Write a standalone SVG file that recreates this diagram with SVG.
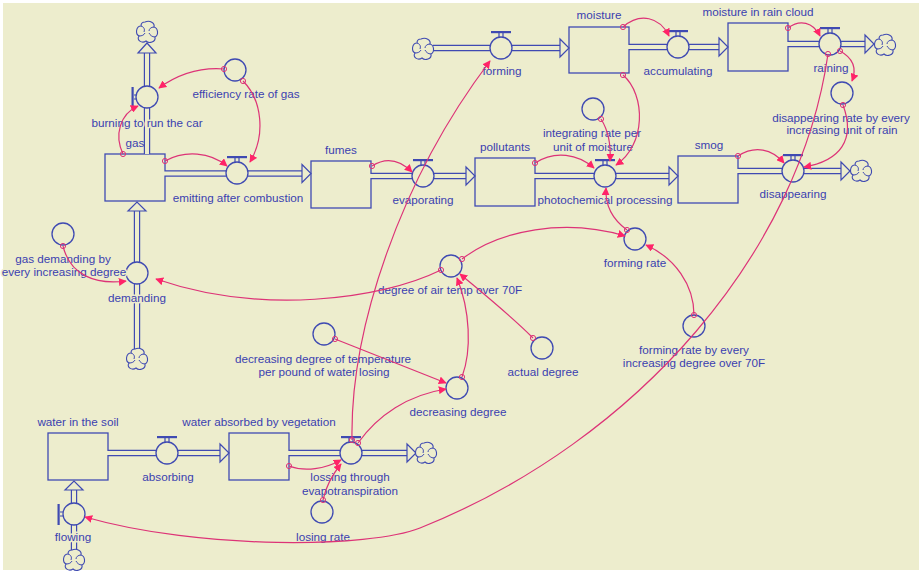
<svg xmlns="http://www.w3.org/2000/svg" width="922" height="573" viewBox="0 0 922 573">
<style>
.bg{fill:#EDEDCD}
.stock{fill:none;stroke:#3F4AB2;stroke-width:1.3}
.po{fill:none;stroke:#3F4AB2;stroke-width:6.4}
.pi{fill:none;stroke:#EDEDCD;stroke-width:4}
.pa{fill:#EDEDCD;stroke:#3F4AB2;stroke-width:1.2;stroke-linejoin:miter}
.valve{fill:#EDEDCD;stroke:#3F4AB2;stroke-width:1.3}
.aux{fill:none;stroke:#3F4AB2;stroke-width:1.3}
.hd{fill:none;stroke:#3F4AB2;stroke-width:1.2}
.hb{fill:#3F4AB2}
.cl{fill:#EDEDCD;stroke:#3F4AB2;stroke-width:1.1}
.sw{fill:none;stroke:#3F4AB2;stroke-width:1}
text{font-family:"Liberation Sans",Arial,sans-serif;font-size:11.7px;fill:#3B3FB0;text-anchor:middle;paint-order:stroke;stroke:#EDEDCD;stroke-width:3;stroke-linejoin:round}
.cn{fill:none;stroke:#DD3377;stroke-width:1.2;marker-start:url(#dot);marker-end:url(#ah)}
</style>
<defs>
<marker id="ah" viewBox="0 0 10 10" refX="9" refY="5" markerWidth="8" markerHeight="8" markerUnits="userSpaceOnUse" orient="auto"><path d="M0,0 L10,5 L0,10 z" fill="#FF2468"/></marker>
<marker id="dot" viewBox="-4 -4 8 8" refX="0" refY="0" markerWidth="8" markerHeight="8" markerUnits="userSpaceOnUse"><circle r="2.6" fill="none" stroke="#DD3377" stroke-width="1"/></marker>
<g id="cloud">
<path class="cl" d="M-2,-10 C3,-12 8,-9 7,-5 C11,-4 12,3 8,5 C9,10 2,12 -1,9 C-5,12 -11,8 -8,4 C-12,2 -11,-6 -6,-6 C-6,-9 -4,-10 -2,-10 Z"/>
<path class="sw" d="M-6,-6 C-3,-5 -2,-3 -3,0 M7,-5 C4,-5 2,-3 2,-1 M8,5 C5,5 3,3 2,1 M-8,4 C-5,4 -3,3 -2,1"/>
</g>
</defs>
<rect x="0" y="0" width="922" height="573" fill="#FFFFFF"/>
<rect class="bg" x="3" y="3" width="916" height="567"/>

<!-- stocks -->
<g id="gas"><rect class="stock" x="105" y="154" width="60" height="47"/><text x="135" y="147">gas</text></g>
<g id="fumes"><rect class="stock" x="311" y="161" width="60" height="47"/><text x="341" y="154">fumes</text></g>
<g id="pollutants"><rect class="stock" x="475" y="158" width="60" height="48"/><text x="505" y="151">pollutants</text></g>
<g id="smog"><rect class="stock" x="678" y="156" width="60" height="47"/><text x="709" y="149">smog</text></g>
<g id="moisture"><rect class="stock" x="569" y="27" width="60" height="46"/><text x="599" y="19">moisture</text></g>
<g id="moisture_in_rain_cloud"><rect class="stock" x="728" y="23" width="60" height="48"/><text x="758" y="16">moisture in rain cloud</text></g>
<g id="water_in_the_soil"><rect class="stock" x="48" y="433" width="60" height="47"/><text x="78" y="426">water in the soil</text></g>
<g id="water_absorbed_by_vegetation"><rect class="stock" x="229" y="433" width="60" height="47"/><text x="259" y="426">water absorbed by vegetation</text></g>

<!-- flows -->
<g id="burning_to_run_the_car">
<path class="po" d="M147,154 V52"/><path class="pi" d="M147,154 V51"/>
<path class="pa" d="M138,53 L147,43 L156,53 Z"/>
<use href="#cloud" x="147" y="32"/>
<circle class="valve" cx="147" cy="97" r="11"/>
<path class="hd" d="M134,95 H136 M134,99 H136"/><rect class="hb" x="131.5" y="87" width="2.2" height="21"/>
<text x="147" y="127">burning to run the car</text>
</g>
<g id="emitting_after_combustion">
<path class="po" d="M165,173.5 H303"/><path class="pi" d="M164,173.5 H304"/>
<path class="pa" d="M302,164.5 L311,173.5 L302,182.5 Z"/>
<circle class="valve" cx="237" cy="173" r="11"/>
<path class="hd" d="M235,158 V162 M239,158 V162"/><rect class="hb" x="227" y="156" width="20" height="2.2"/>
<text x="238" y="202">emitting after combustion</text>
</g>
<g id="evaporating">
<path class="po" d="M371,176 H467"/><path class="pi" d="M370,176 H468"/>
<path class="pa" d="M466,167 L475,176 L466,185 Z"/>
<circle class="valve" cx="423" cy="176" r="11"/>
<path class="hd" d="M421,161 V165 M425,161 V165"/><rect class="hb" x="413" y="159" width="20" height="2.2"/>
<text x="423" y="204">evaporating</text>
</g>
<g id="photochemical_processing">
<path class="po" d="M535,176 H670"/><path class="pi" d="M534,176 H671"/>
<path class="pa" d="M669,167 L678,176 L669,185 Z"/>
<circle class="valve" cx="605" cy="176" r="11"/>
<path class="hd" d="M603,161 V165 M607,161 V165"/><rect class="hb" x="595" y="159" width="20" height="2.2"/>
<text x="605" y="204">photochemical processing</text>
</g>
<g id="disappearing">
<path class="po" d="M738,171 H842"/><path class="pi" d="M737,171 H843"/>
<path class="pa" d="M841,162 L850,171 L841,180 Z"/>
<use href="#cloud" x="861" y="171"/>
<circle class="valve" cx="793" cy="171" r="11"/>
<path class="hd" d="M791,156 V160 M795,156 V160"/><rect class="hb" x="783" y="154" width="20" height="2.2"/>
<text x="793" y="198">disappearing</text>
</g>
<g id="forming">
<path class="po" d="M433,48 H561"/><path class="pi" d="M432,48 H562"/>
<path class="pa" d="M560,39 L569,48 L560,57 Z"/>
<use href="#cloud" x="423" y="49"/>
<circle class="valve" cx="501" cy="48" r="11"/>
<path class="hd" d="M499,33 V37 M503,33 V37"/><rect class="hb" x="491" y="31" width="20" height="2.2"/>
<text x="502" y="75">forming</text>
</g>
<g id="accumulating">
<path class="po" d="M629,47 H720"/><path class="pi" d="M628,47 H721"/>
<path class="pa" d="M719,38 L728,47 L719,56 Z"/>
<circle class="valve" cx="678" cy="47" r="11"/>
<path class="hd" d="M676,32 V36 M680,32 V36"/><rect class="hb" x="668" y="30" width="20" height="2.2"/>
<text x="678" y="75">accumulating</text>
</g>
<g id="raining">
<path class="po" d="M788,44 H866"/><path class="pi" d="M787,44 H867"/>
<path class="pa" d="M865,35 L874,44 L865,53 Z"/>
<use href="#cloud" x="885" y="45"/>
<circle class="valve" cx="830" cy="44" r="11"/>
<path class="hd" d="M828,29 V33 M832,29 V33"/><rect class="hb" x="820" y="27" width="20" height="2.2"/>
<text x="831" y="72">raining</text>
</g>
<g id="demanding">
<path class="po" d="M137,350 V210"/><path class="pi" d="M137,351 V209"/>
<path class="pa" d="M128,211 L137,202 L146,211 Z"/>
<use href="#cloud" x="137" y="359"/>
<circle class="valve" cx="137" cy="273" r="11"/>
<text x="137" y="302">demanding</text>
</g>
<g id="absorbing">
<path class="po" d="M108,453 H221"/><path class="pi" d="M107,453 H222"/>
<path class="pa" d="M220,444 L229,453 L220,462 Z"/>
<circle class="valve" cx="167" cy="453" r="11"/>
<path class="hd" d="M165,438 V442 M169,438 V442"/><rect class="hb" x="157" y="436" width="20" height="2.2"/>
<text x="168" y="481">absorbing</text>
</g>
<g id="lossing_through_evapotranspiration">
<path class="po" d="M289,453 H408"/><path class="pi" d="M288,453 H409"/>
<path class="pa" d="M407,444 L416,453 L407,462 Z"/>
<use href="#cloud" x="426" y="453"/>
<circle class="valve" cx="351" cy="453" r="11"/>
<path class="hd" d="M349,438 V442 M353,438 V442"/><rect class="hb" x="341" y="436" width="20" height="2.2"/>
<text x="350" y="481">lossing through</text>
<text x="350" y="495">evapotranspiration</text>
</g>
<g id="flowing">
<path class="po" d="M74,551 V489"/><path class="pi" d="M74,552 V488"/>
<path class="pa" d="M65,490 L74,481 L83,490 Z"/>
<use href="#cloud" x="74" y="560"/>
<circle class="valve" cx="74" cy="514" r="11"/>
<path class="hd" d="M60,512 H63 M60,516 H63"/><rect class="hb" x="57.5" y="504" width="2.2" height="21"/>
<text x="73" y="541">flowing</text>
</g>

<!-- auxiliaries -->
<g id="efficiency_rate_of_gas"><circle class="aux" cx="235" cy="70" r="11"/><text x="246" y="98">efficiency rate of gas</text></g>
<g id="gas_demanding_by_every_increasing_degree"><circle class="aux" cx="63" cy="234" r="11"/><text x="63" y="263">gas demanding by</text><text x="64" y="276">every increasing degree</text></g>
<g id="integrating_rate_per_unit_of_moisture"><circle class="aux" cx="593" cy="109" r="11"/><text x="592" y="137">integrating rate per</text><text x="593" y="151">unit of moisture</text></g>
<g id="disappearing_rate_by_every_increasing_unit_of_rain"><circle class="aux" cx="842" cy="93" r="11"/><text x="841" y="122">disappearing rate by every</text><text x="842" y="134">increasing unit of rain</text></g>
<g id="forming_rate"><circle class="aux" cx="635" cy="239" r="11"/><text x="635" y="267">forming rate</text></g>
<g id="degree_of_air_temp_over_70F"><circle class="aux" cx="451" cy="266" r="11"/><text x="450" y="294">degree of air temp over 70F</text></g>
<g id="forming_rate_by_every_increasing_degree_over_70F"><circle class="aux" cx="694" cy="326" r="11"/><text x="694" y="354">forming rate by every</text><text x="694" y="367">increasing degree over 70F</text></g>
<g id="actual_degree"><circle class="aux" cx="542" cy="348" r="11"/><text x="543" y="376">actual degree</text></g>
<g id="decreasing_degree_of_temperature_per_pound_of_water_losing"><circle class="aux" cx="324" cy="334" r="11"/><text x="323" y="363">decreasing degree of temperature</text><text x="324" y="376">per pound of water losing</text></g>
<g id="decreasing_degree"><circle class="aux" cx="457" cy="388" r="11"/><text x="458" y="416">decreasing degree</text></g>
<g id="losing_rate"><circle class="aux" cx="322" cy="512" r="11"/><text x="323" y="541">losing rate</text></g>

<!-- connectors -->
<g id="connectors">
<path class="cn" d="M123,154 C114,135 120,114 138,106"/>
<path class="cn" d="M224,69 C198,67 177,75 159,88"/>
<path class="cn" d="M243,81 C262,100 266,135 250,162"/>
<path class="cn" d="M165,161 C185,150 210,152 227,166"/>
<path class="cn" d="M372,166 C386,157 400,160 412,172"/>
<path class="cn" d="M535,163 C555,150 578,154 594,168"/>
<path class="cn" d="M601,119 C608,130 611,145 610,161"/>
<path class="cn" d="M623,75 C646,95 646,145 616,165"/>
<path class="cn" d="M627,230 C612,219 605,205 606,188"/>
<path class="cn" d="M462,259 C500,230 565,218 625,236"/>
<path class="cn" d="M694,315 C694,285 675,258 646,245"/>
<path class="cn" d="M441,270 C380,300 260,315 156,279"/>
<path class="cn" d="M533,338 C510,315 485,295 460,274"/>
<path class="cn" d="M462,377 C472,350 470,310 457,278"/>
<path class="cn" d="M335,339 L446,383"/>
<path class="cn" d="M358,443 C378,415 408,395 446,389"/>
<path class="cn" d="M352,440 C350,330 400,180 490,61"/>
<path class="cn" d="M828,54 C800,250 640,440 420,528 C370,548 200,550 85,517"/>
<path class="cn" d="M788,28 C800,19 813,22 820,36"/>
<path class="cn" d="M840,51 C853,58 857,68 852,81"/>
<path class="cn" d="M843,105 C856,140 840,161 804,167"/>
<path class="cn" d="M738,156 C755,145 772,149 784,163"/>
<path class="cn" d="M623,27 C640,12 660,17 669,36"/>
<path class="cn" d="M63,246 C70,275 95,285 126,281"/>
<path class="cn" d="M289,466 C305,472 325,469 341,460"/>
<path class="cn" d="M323,500 C326,486 332,475 341,464"/>
</g>
</svg>
